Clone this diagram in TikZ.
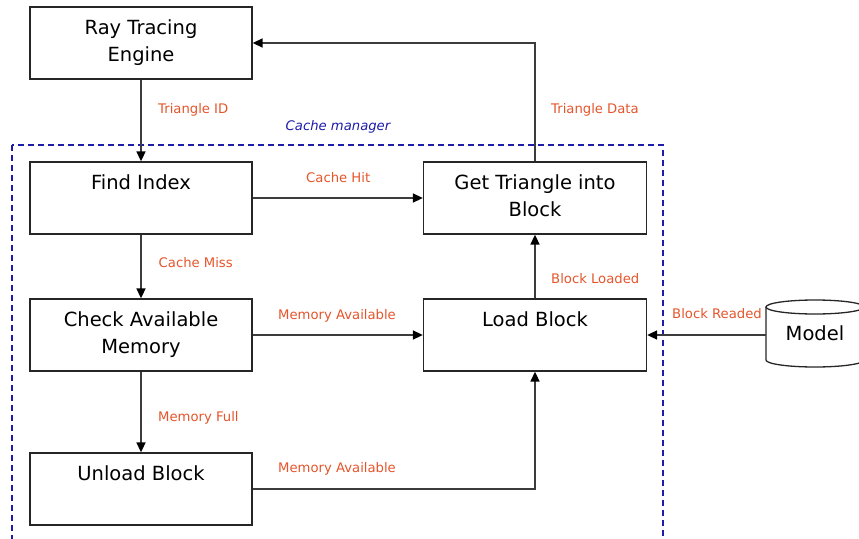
\documentclass[tikz,border=0pt]{standalone}
\usepackage{fontspec}
\setmainfont{DejaVu Sans}
\usetikzlibrary{arrows.meta}
\definecolor{lblorange}{HTML}{E4552B}
\definecolor{mgrblue}{HTML}{1C1CA8}
\definecolor{edgegray}{HTML}{3C3C3C}
\tikzset{
  procbox/.style={draw=black!85, line width=1.3pt, fill=white,
    minimum width=222pt, minimum height=72pt, inner sep=0pt},
  boxtext/.style={anchor=north, inner sep=0pt, align=center,
    font=\fontsize{19.5}{27}\selectfont},
  flow/.style={draw=edgegray, line width=1.6pt,
    -{Triangle[length=10pt,width=9pt,color=black]}},
  flowlabel/.style={anchor=base west, inner sep=0pt, text=lblorange,
    font=\fontsize{13.2}{15}\selectfont},
}
\begin{document}
\begin{tikzpicture}[x=1pt,y=-1pt]
\useasboundingbox (0,0) rectangle (859,538);
\clip (0,0) rectangle (859,538);

% cache manager boundary
\draw[mgrblue, line width=1.4pt, dash pattern=on 6pt off 4pt]
  (12,145) rectangle (663,560);
\node[anchor=base west, inner sep=0pt, text=mgrblue,
  font=\fontsize{13.2}{15}\selectfont\itshape] (mgr) at (285.5,130.5) {Cache manager};

% process boxes
\node[procbox] (rte) at (141,43) {};
\node[procbox] (fi)  at (141,198) {};
\node[procbox] (cam) at (141,335) {};
\node[procbox] (ub)  at (141,489) {};
\node[procbox, minimum width=223pt] (gt) at (535,198) {};
\node[procbox, minimum width=223pt] (lb) at (535,335) {};

\node[boxtext] (rte-t) at ([yshift=-9.1pt]rte.north) {\strut Ray Tracing\\Engine};
\node[boxtext] (fi-t)  at ([yshift=-9.1pt]fi.north)  {\strut Find Index};
\node[boxtext] (cam-t) at ([yshift=-9.1pt]cam.north) {\strut Check Available\\Memory};
\node[boxtext] (ub-t)  at ([yshift=-9.1pt]ub.north)  {\strut Unload Block};
\node[boxtext] (gt-t)  at ([yshift=-9.1pt]gt.north)  {\strut Get Triangle into\\Block};
\node[boxtext] (lb-t)  at ([yshift=-9.1pt]lb.north)  {\strut Load Block};

% model store (cylinder)
\draw[black!85, line width=1.3pt, fill=white]
  (766,307) -- (766,360)
  arc[start angle=180, end angle=360, x radius=49pt, y radius=7pt]
  -- (864,307);
\draw[black!85, line width=1.3pt, fill=white]
  (815,307) ellipse [x radius=49pt, y radius=7pt];
\node[minimum width=98pt, minimum height=67pt, inner sep=0pt,
  font=\fontsize{19.5}{27}\selectfont] (model) at (815,333.5) {Model};

% connectors
\draw[flow] (rte.south) -- (fi.north);
\draw[flow] (fi.east) -- (gt.west);
\draw[flow] (gt.north) |- (rte.east);
\draw[flow] (fi.south) -- (cam.north);
\draw[flow] (cam.east) -- (lb.west);
\draw[flow] (cam.south) -- (ub.north);
\draw[flow] (ub.east) -| (lb.south);
\draw[flow] (lb.north) -- (gt.south);
\draw[flow] (model.west |- lb.east) -- (lb.east);

% connector labels
\node[flowlabel] (l-tid)  at (158,113)   {Triangle ID};
\node[flowlabel] (l-tdat) at (551,113)   {Triangle Data};
\node[flowlabel] (l-hit)  at (306,182)   {Cache Hit};
\node[flowlabel] (l-miss) at (158.5,267) {Cache Miss};
\node[flowlabel] (l-bld)  at (551,283)   {Block Loaded};
\node[flowlabel] (l-mav1) at (278,319)   {Memory Available};
\node[flowlabel] (l-brd)  at (672,318)   {Block Readed};
\node[flowlabel] (l-full) at (158,421.5) {Memory Full};
\node[flowlabel] (l-mav2) at (278,472.5) {Memory Available};
\end{tikzpicture}
\end{document}
